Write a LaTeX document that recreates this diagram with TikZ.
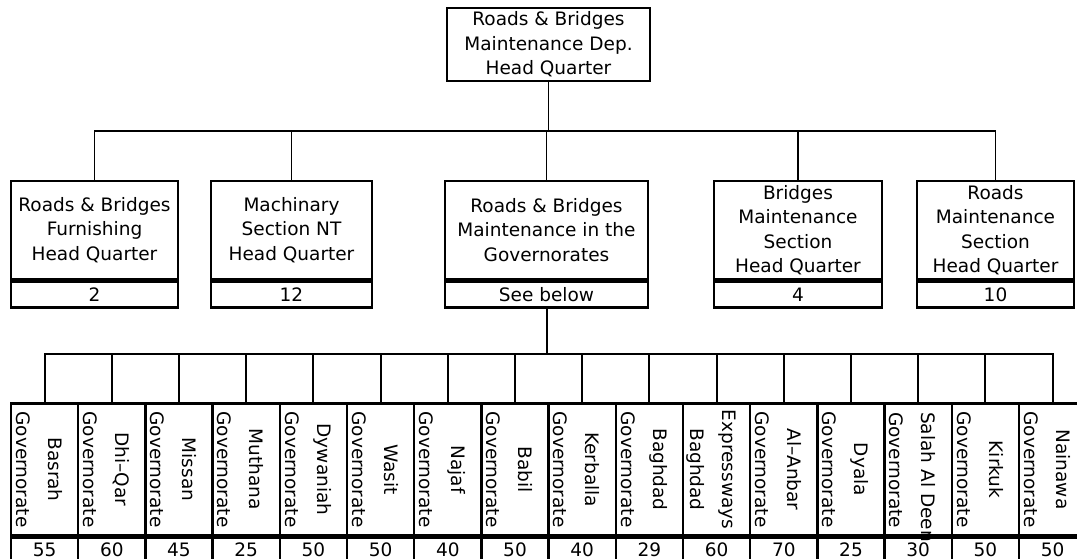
\documentclass[tikz,border=0pt]{standalone}
\usepackage{fontspec}
\setmainfont{DejaVu Sans}
\usetikzlibrary{positioning}

\tikzset{
  orgbox/.style={draw,line width=2.4pt,inner sep=0pt,align=center,
    font=\fontsize{18.5}{24.5}\selectfont},
  numcell/.style={orgbox,minimum height=26pt},
  govbox/.style={draw,line width=2.4pt,inner sep=0pt,minimum width=67.2pt,minimum height=131.5pt},
  govnum/.style={orgbox,minimum width=67.2pt,minimum height=24.5pt},
  govtext/.style={rotate=-90,inner sep=0pt,align=center,font=\fontsize{18.5}{32}\selectfont},
  link/.style={line width=1.4pt},
  govlink/.style={line width=2pt}
}

\begin{document}
\begin{tikzpicture}[x=1pt,y=-1pt]
    \useasboundingbox (0,0) rectangle (1077,559);

    \node[orgbox,minimum width=203pt,minimum height=73pt] (hq) at (548.5,44.5) {Roads \& Bridges\\Maintenance Dep.\\Head Quarter};

    \node[orgbox,minimum width=167pt,minimum height=98pt] (furn) at (94.5,230) {Roads \& Bridges\\Furnishing\\Head Quarter};
    \node[orgbox,minimum width=161pt,minimum height=98pt] (mach) at (291.5,230) {Machinary\\Section NT\\Head Quarter};
    \node[orgbox,minimum width=203pt,minimum height=98pt] (gov) at (546.5,230) {Roads \& Bridges\\Maintenance in the\\Governorates};
    \node[orgbox,minimum width=168pt,minimum height=98pt] (brid) at (798,230) {Bridges\\Maintenance\\Section\\Head Quarter};
    \node[orgbox,minimum width=157pt,minimum height=98pt] (road) at (995.5,230) {Roads\\Maintenance\\Section\\Head Quarter};

    \node[numcell,minimum width=167pt,below=0pt of furn] (furnn) {2};
    \node[numcell,minimum width=161pt,below=0pt of mach] (machn) {12};
    \node[numcell,minimum width=203pt,below=0pt of gov] (govn) {See below};
    \node[numcell,minimum width=168pt,below=0pt of brid] (bridn) {4};
    \node[numcell,minimum width=157pt,below=0pt of road] (roadn) {10};

    \coordinate (bus1) at (548.5,131);
    \draw[link] (hq) -- (bus1);
    \draw[link] (furn) |- (bus1);
    \draw[link] (mach) |- (bus1);
    \draw[link] (gov) |- (bus1);
    \draw[link] (brid) |- (bus1);
    \draw[link] (road) |- (bus1);

    \node[govbox] (g1) at (44.6,469.25) {};
    \node[govbox] (g2) at (111.8,469.25) {};
    \node[govbox] (g3) at (179.0,469.25) {};
    \node[govbox] (g4) at (246.2,469.25) {};
    \node[govbox] (g5) at (313.4,469.25) {};
    \node[govbox] (g6) at (380.6,469.25) {};
    \node[govbox] (g7) at (447.8,469.25) {};
    \node[govbox] (g8) at (515.0,469.25) {};
    \node[govbox] (g9) at (582.2,469.25) {};
    \node[govbox] (g10) at (649.4,469.25) {};
    \node[govbox] (g11) at (716.6,469.25) {};
    \node[govbox] (g12) at (783.8,469.25) {};
    \node[govbox] (g13) at (851.0,469.25) {};
    \node[govbox] (g14) at (918.2,469.25) {};
    \node[govbox] (g15) at (985.4,469.25) {};
    \node[govbox] (g16) at (1052.6,469.25) {};

    \node[govtext] (t1) at (39.1,469.5) {Basrah\\Governorate};
    \node[govtext] (t2) at (106.3,469.5) {Dhi--Qar\\Governorate};
    \node[govtext] (t3) at (173.5,469.5) {Missan\\Governorate};
    \node[govtext] (t4) at (240.7,469.5) {Muthana\\Governorate};
    \node[govtext] (t5) at (307.9,469.5) {Dywaniah\\Governorate};
    \node[govtext] (t6) at (375.1,469.5) {Wasit\\Governorate};
    \node[govtext] (t7) at (442.3,469.5) {Najaf\\Governorate};
    \node[govtext] (t8) at (509.5,469.5) {Babil\\Governorate};
    \node[govtext] (t9) at (576.7,469.5) {Kerballa\\Governorate};
    \node[govtext] (t10) at (643.9,469.5) {Baghdad\\Governorate};
    \node[govtext] (t11) at (711.1,469.5) {Expressways\\Baghdad};
    \node[govtext] (t12) at (778.3,469.5) {Al--Anbar\\Governorate};
    \node[govtext] (t13) at (845.5,469.5) {Dyala\\Governorate};
    \node[govtext,align=left,anchor=west] (t14) at (912.7,412) {Salah Al Deen\\Governorate};
    \node[govtext] (t15) at (979.9,469.5) {Kirkuk\\Governorate};
    \node[govtext] (t16) at (1047.1,469.5) {Nainawa\\Governorate};

    \node[govnum,below=0pt of g1] (n1) {55};
    \node[govnum,below=0pt of g2] (n2) {60};
    \node[govnum,below=0pt of g3] (n3) {45};
    \node[govnum,below=0pt of g4] (n4) {25};
    \node[govnum,below=0pt of g5] (n5) {50};
    \node[govnum,below=0pt of g6] (n6) {50};
    \node[govnum,below=0pt of g7] (n7) {40};
    \node[govnum,below=0pt of g8] (n8) {50};
    \node[govnum,below=0pt of g9] (n9) {40};
    \node[govnum,below=0pt of g10] (n10) {29};
    \node[govnum,below=0pt of g11] (n11) {60};
    \node[govnum,below=0pt of g12] (n12) {70};
    \node[govnum,below=0pt of g13] (n13) {25};
    \node[govnum,below=0pt of g14] (n14) {30};
    \node[govnum,below=0pt of g15] (n15) {50};
    \node[govnum,below=0pt of g16] (n16) {50};

    \coordinate (bus2) at (546.5,354);
    \draw[govlink] (govn) -- (bus2);
    \draw[govlink] (g1) |- (bus2);
    \draw[govlink] (g2) |- (bus2);
    \draw[govlink] (g3) |- (bus2);
    \draw[govlink] (g4) |- (bus2);
    \draw[govlink] (g5) |- (bus2);
    \draw[govlink] (g6) |- (bus2);
    \draw[govlink] (g7) |- (bus2);
    \draw[govlink] (g8) |- (bus2);
    \draw[govlink] (g9) |- (bus2);
    \draw[govlink] (g10) |- (bus2);
    \draw[govlink] (g11) |- (bus2);
    \draw[govlink] (g12) |- (bus2);
    \draw[govlink] (g13) |- (bus2);
    \draw[govlink] (g14) |- (bus2);
    \draw[govlink] (g15) |- (bus2);
    \draw[govlink] (g16) |- (bus2);
\end{tikzpicture}
\end{document}
